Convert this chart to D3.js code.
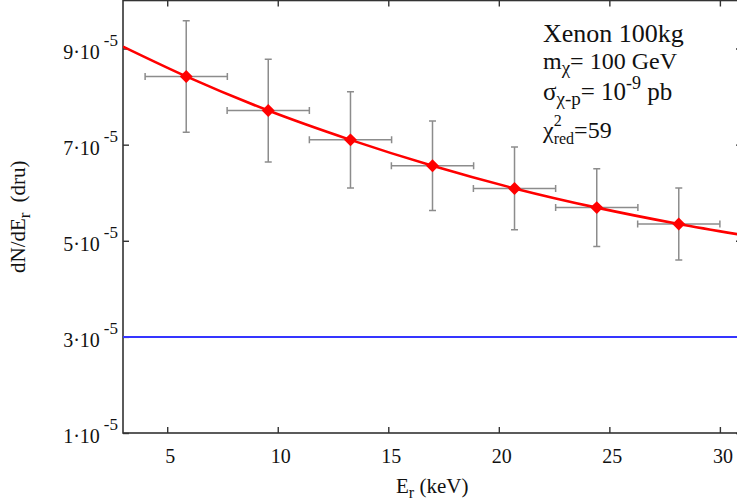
<!DOCTYPE html>
<html>
<head>
<meta charset="utf-8">
<script src="https://cdn.jsdelivr.net/npm/d3@7"></script>
<style>
  html, body { margin: 0; padding: 0; background: #fff; }
  svg { display: block; }
  text { font-family: "Liberation Serif", "DejaVu Serif", serif; fill: #111; }
</style>
</head>
<body>
<svg id="chart" width="737" height="503"></svg>
<script>
// ---- data (rates in units of 1e-5 dru) ----
const energies = [5.86, 9.57, 13.29, 17.00, 20.71, 24.43, 28.14];
const energyErr = [1.86, 1.86, 1.86, 1.86, 1.86, 1.86, 1.86];
const rates = [8.42, 7.71, 7.10, 6.56, 6.09, 5.69, 5.35];
const rateErr = [1.16, 1.07, 1.00, 0.93, 0.86, 0.81, 0.75];
const fitEnergies = [3, 5.86, 9.57, 13.29, 17.00, 20.71, 24.43, 28.14, 31];
const fitRates = [9.04, 8.42, 7.71, 7.10, 6.56, 6.09, 5.69, 5.35, 5.12];
const bgEnergies = [3, 31];
const bgRates = [3.0, 3.0];
const xTicks = [5, 10, 15, 20, 25, 30];
const yTicks = [1, 3, 5, 7, 9];
const yExponent = "-5";

(function () {
const svg = d3.select("#chart");
const pL = 123, pR = 742, pT = 0.5, pB = 433;
const x = d3.scaleLinear().domain([3, 31]).range([pL, pR]);
const y = d3.scaleLinear().domain([1, 10]).range([pB, pT]);

const frameColor = "#333";
const tickLen = 6;

// frame
svg.append("rect")
  .attr("x", pL).attr("y", pT)
  .attr("width", pR - pL).attr("height", pB - pT)
  .attr("fill", "none").attr("stroke", frameColor).attr("stroke-width", 1.6);

// axes with inward ticks (bottom/top/left/right)
const xAxisB = d3.axisBottom(x).tickValues(xTicks).tickSize(-tickLen).tickFormat("");
const xAxisT = d3.axisTop(x).tickValues(xTicks).tickSize(-tickLen).tickFormat("");
const yAxisL = d3.axisLeft(y).tickValues(yTicks).tickSize(-tickLen).tickFormat("");
const yAxisR = d3.axisRight(y).tickValues(yTicks).tickSize(-tickLen).tickFormat("");
function styleAxis(g) {
  g.select(".domain").remove();
  g.selectAll(".tick line").attr("stroke", frameColor).attr("stroke-width", 1.4);
}
svg.append("g").attr("transform", `translate(0,${pB})`).call(xAxisB).call(styleAxis);
svg.append("g").attr("transform", `translate(0,${pT})`).call(xAxisT).call(styleAxis);
svg.append("g").attr("transform", `translate(${pL},0)`).call(yAxisL).call(styleAxis);
svg.append("g").attr("transform", `translate(${pR},0)`).call(yAxisR).call(styleAxis);

// x tick labels
svg.append("g").selectAll("text").data(xTicks).join("text")
  .attr("x", d => x(d) + 3).attr("y", pB + 30)
  .attr("text-anchor", "middle").attr("font-size", 20)
  .text(d => d);

// y tick labels  m·10^-5
const yl = svg.append("g").selectAll("text").data(yTicks).join("text")
  .attr("x", 118).attr("y", d => y(d) + 10)
  .attr("text-anchor", "end").attr("font-size", 20);
yl.append("tspan").text(d => d + "\u00b710");
yl.append("tspan").attr("dy", -13).attr("dx", 4).attr("font-size", 17).text(yExponent);

// axis titles
const xt = svg.append("text").attr("x", 396).attr("y", 493).attr("font-size", 21);
xt.append("tspan").text("E");
xt.append("tspan").attr("dy", 5).attr("font-size", 16).text("r");
xt.append("tspan").attr("dy", -5).text(" (keV)");

const yt = svg.append("text").attr("transform", "translate(25,273) rotate(-90)")
  .attr("text-anchor", "start").attr("font-size", 21);
yt.append("tspan").text("dN/dE");
yt.append("tspan").attr("dy", 5).attr("font-size", 17).text("r");
yt.append("tspan").attr("dy", -5).attr("dx", 10).text("(dru)");

// clip to plot
svg.append("clipPath").attr("id", "clip").append("rect")
  .attr("x", pL).attr("y", pT).attr("width", pR - pL).attr("height", pB - pT);
const plot = svg.append("g").attr("clip-path", "url(#clip)");

// background line
plot.append("path")
  .datum(bgEnergies.map((e, i) => [e, bgRates[i]]))
  .attr("d", d3.line().x(d => x(d[0])).y(d => y(d[1])))
  .attr("fill", "none").attr("stroke", "#3535ff").attr("stroke-width", 2);

// error bars
const pts = energies.map((e, i) => ({ e, de: energyErr[i], r: rates[i], dr: rateErr[i] }));
const errColor = "#8c8c8c", cap = 3.5;
const eb = plot.append("g").attr("stroke", errColor).attr("stroke-width", 1.5);
pts.forEach(p => {
  eb.append("line").attr("x1", x(p.e)).attr("x2", x(p.e)).attr("y1", y(p.r - p.dr)).attr("y2", y(p.r + p.dr));
  eb.append("line").attr("x1", x(p.e) - cap).attr("x2", x(p.e) + cap).attr("y1", y(p.r - p.dr)).attr("y2", y(p.r - p.dr));
  eb.append("line").attr("x1", x(p.e) - cap).attr("x2", x(p.e) + cap).attr("y1", y(p.r + p.dr)).attr("y2", y(p.r + p.dr));
  eb.append("line").attr("x1", x(p.e - p.de)).attr("x2", x(p.e + p.de)).attr("y1", y(p.r)).attr("y2", y(p.r));
  eb.append("line").attr("x1", x(p.e - p.de)).attr("x2", x(p.e - p.de)).attr("y1", y(p.r) - cap).attr("y2", y(p.r) + cap);
  eb.append("line").attr("x1", x(p.e + p.de)).attr("x2", x(p.e + p.de)).attr("y1", y(p.r) - cap).attr("y2", y(p.r) + cap);
});

// fit curve
plot.append("path")
  .datum(fitEnergies.map((e, i) => [e, fitRates[i]]))
  .attr("d", d3.line().curve(d3.curveMonotoneX).x(d => x(d[0])).y(d => y(d[1])))
  .attr("fill", "none").attr("stroke", "#ff0000").attr("stroke-width", 2.6);

// diamonds
plot.append("g").selectAll("path").data(pts).join("path")
  .attr("transform", p => `translate(${x(p.e)},${y(p.r)}) rotate(45)`)
  .attr("d", d3.symbol(d3.symbolSquare, 84)())
  .attr("fill", "#ff0000");

// annotation
const ax = 543;
svg.append("text").attr("x", ax).attr("y", 42).attr("font-size", 26).text("Xenon 100kg");

const l2 = svg.append("text").attr("x", ax).attr("y", 69).attr("font-size", 24);
l2.append("tspan").text("m");
l2.append("tspan").attr("dy", 5).attr("font-size", 19).text("\u03c7");
l2.append("tspan").attr("dy", -5).text("= 100 GeV");

const l3 = svg.append("text").attr("x", ax).attr("y", 100).attr("font-size", 25);
l3.append("tspan").text("\u03c3");
l3.append("tspan").attr("dy", 5).attr("font-size", 19).text("\u03c7-p");
l3.append("tspan").attr("dy", -5).text("= 10");
l3.append("tspan").attr("dy", -11).attr("font-size", 18).text("-9");
l3.append("tspan").attr("dy", 11).text(" pb");

const chi = svg.append("text").attr("x", ax).attr("y", 138).attr("font-size", 24).text("\u03c7");
const wChi = chi.node().getComputedTextLength();
svg.append("text").attr("x", ax + wChi).attr("y", 126).attr("font-size", 16).text("2");
const red = svg.append("text").attr("x", ax + wChi).attr("y", 144).attr("font-size", 16).text("red");
const wRed = red.node().getComputedTextLength();
svg.append("text").attr("x", ax + wChi + wRed).attr("y", 138).attr("font-size", 24).text("=59");
})();
</script>
</body>
</html>
